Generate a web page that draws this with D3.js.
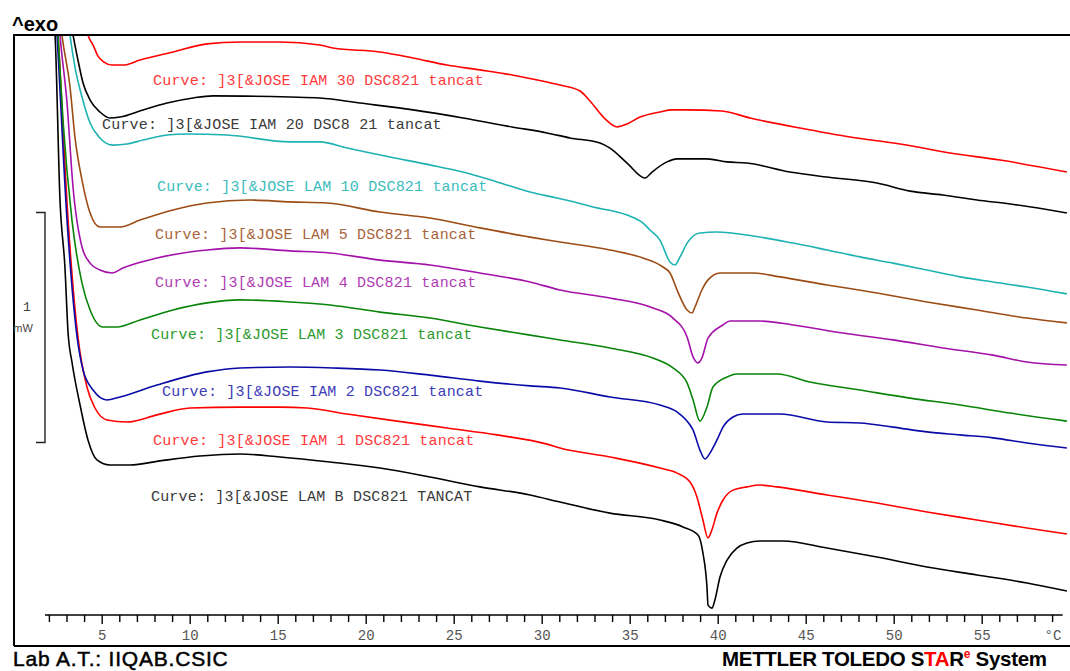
<!DOCTYPE html>
<html>
<head>
<meta charset="utf-8">
<script src="https://cdn.jsdelivr.net/npm/d3@7"></script>
<style>
  html, body { margin: 0; padding: 0; background: #fff; }
  svg { display: block; }
</style>
</head>
<body>
<svg id="chart" width="1070" height="671"></svg>
<script>
// DSC heating scans: [temperature °C, heat flow mW] (curves offset for display)
const lam30 = [[4.10,2.56],[4.22,2.522],[4.51,2.478],[4.79,2.430],[5.13,2.404],[5.59,2.391],[6.21,2.391],[7.18,2.413],[9.05,2.448],[10.98,2.483],[12.86,2.491],[15.13,2.491],[17.40,2.478],[18.14,2.465],[20.81,2.448],[22.69,2.422],[24.62,2.391],[26.49,2.370],[28.31,2.348],[30.30,2.317],[31.04,2.304],[32.18,2.278],[32.74,2.235],[33.60,2.157],[34.28,2.122],[34.85,2.135],[35.59,2.165],[36.72,2.187],[37.40,2.196],[38.26,2.196],[40.24,2.191],[41.84,2.161],[44.68,2.117],[47.52,2.078],[50.36,2.048],[53.20,2.009],[56.04,1.978],[59.84,1.926]];
const lam20 = [[3.28,2.56],[3.37,2.522],[3.65,2.413],[3.94,2.313],[4.34,2.239],[4.90,2.187],[5.47,2.161],[6.04,2.165],[7.35,2.196],[8.71,2.226],[10.19,2.248],[11.32,2.257],[15.70,2.252],[17.40,2.248],[19.68,2.226],[22.69,2.196],[25.53,2.161],[28.31,2.122],[30.30,2.096],[31.61,2.074],[33.31,2.052],[33.88,2.030],[34.85,1.965],[35.87,1.900],[36.27,1.926],[37.12,1.970],[37.69,1.983],[39.39,1.983],[40.53,1.970],[41.66,1.965],[44.11,1.926],[46.21,1.904],[49.05,1.878],[50.93,1.843],[52.80,1.826],[54.73,1.804],[56.61,1.787],[59.84,1.748]];
const lam10 = [[3.14,2.56],[3.20,2.522],[3.48,2.383],[3.88,2.252],[4.34,2.139],[4.90,2.074],[5.64,2.043],[6.44,2.048],[7.35,2.065],[8.71,2.087],[9.84,2.091],[12.12,2.087],[15.70,2.057],[17.40,2.057],[18.94,2.030],[21.38,1.991],[23.65,1.957],[25.53,1.926],[27.46,1.883],[29.34,1.839],[30.87,1.813],[31.61,1.800],[32.91,1.774],[34.85,1.739],[35.76,1.704],[36.15,1.674],[36.72,1.630],[37.29,1.535],[37.57,1.522],[37.86,1.557],[38.26,1.617],[38.99,1.661],[39.96,1.665],[42.01,1.648],[44.28,1.617],[46.21,1.587],[48.09,1.557],[49.96,1.530],[51.89,1.500],[53.77,1.470],[55.64,1.448],[57.57,1.426],[59.84,1.396]];
const lam5 = [[2.68,2.56],[2.74,2.522],[3.20,2.296],[3.48,2.078],[3.88,1.891],[4.34,1.748],[4.90,1.687],[6.04,1.687],[7.18,1.717],[9.05,1.761],[10.98,1.791],[13.43,1.804],[15.70,1.796],[17.80,1.791],[20.81,1.752],[23.65,1.726],[26.49,1.683],[29.34,1.643],[31.04,1.622],[33.88,1.587],[35.76,1.552],[36.89,1.513],[37.29,1.487],[37.74,1.404],[38.26,1.326],[38.54,1.313],[38.71,1.339],[39.10,1.413],[39.45,1.457],[40.13,1.487],[42.01,1.487],[43.54,1.470],[46.21,1.435],[49.05,1.400],[51.89,1.361],[54.73,1.326],[57.57,1.291],[59.84,1.270]];
const lam4 = [[2.59,2.56],[2.63,2.522],[3.03,2.226],[3.37,1.861],[3.88,1.600],[4.34,1.530],[4.90,1.500],[5.59,1.487],[6.21,1.509],[8.14,1.552],[10.98,1.587],[12.86,1.596],[15.70,1.583],[17.97,1.574],[20.81,1.543],[23.65,1.522],[26.49,1.487],[29.34,1.448],[31.04,1.413],[33.88,1.378],[36.32,1.335],[37.46,1.291],[38.26,1.209],[38.60,1.122],[38.88,1.096],[39.10,1.117],[39.45,1.204],[40.30,1.261],[40.70,1.278],[42.40,1.278],[44.28,1.261],[47.12,1.226],[49.96,1.196],[52.80,1.161],[55.64,1.130],[57.57,1.100],[59.84,1.087]];
const lam3 = [[2.49,2.56],[2.52,2.522],[2.80,2.152],[3.31,1.717],[3.88,1.443],[4.34,1.326],[5.07,1.252],[5.87,1.252],[7.18,1.283],[9.05,1.326],[10.98,1.357],[12.86,1.370],[15.70,1.361],[17.97,1.348],[20.81,1.317],[23.65,1.291],[26.49,1.252],[29.34,1.217],[31.04,1.196],[33.88,1.161],[36.32,1.117],[37.46,1.074],[38.26,1.009],[38.60,0.935],[38.99,0.843],[39.39,0.904],[39.73,0.991],[40.53,1.035],[41.09,1.048],[43.37,1.048],[45.24,1.013],[48.09,0.978],[50.93,0.943],[53.77,0.913],[56.61,0.878],[59.84,0.843]];
const lam2 = [[2.43,2.56],[2.46,2.522],[3.03,1.717],[3.60,1.209],[3.94,1.065],[4.51,0.978],[5.30,0.935],[6.04,0.948],[8.14,1.000],[10.98,1.057],[12.86,1.074],[15.70,1.078],[18.14,1.074],[20.81,1.065],[23.65,1.043],[26.49,1.017],[29.34,0.996],[31.04,0.987],[33.88,0.948],[36.72,0.913],[37.69,0.883],[38.43,0.826],[38.60,0.804],[38.99,0.717],[39.28,0.678],[39.56,0.704],[39.96,0.761],[40.30,0.817],[40.87,0.861],[41.43,0.874],[43.54,0.874],[46.21,0.839],[48.09,0.835],[49.96,0.817],[51.89,0.796],[53.77,0.783],[55.64,0.770],[57.57,0.748],[59.84,0.726]];
const lam1 = [[2.49,2.56],[2.52,2.522],[3.09,1.717],[3.65,1.209],[4.16,0.991],[4.62,0.900],[5.30,0.848],[6.44,0.839],[8.14,0.870],[10.02,0.900],[12.86,0.904],[15.13,0.904],[16.68,0.900],[18.94,0.874],[21.78,0.843],[24.62,0.813],[27.46,0.783],[30.30,0.743],[31.04,0.726],[33.88,0.687],[36.72,0.639],[37.69,0.617],[38.43,0.578],[38.82,0.513],[39.16,0.413],[39.45,0.335],[39.67,0.370],[39.96,0.443],[40.30,0.500],[40.87,0.543],[41.66,0.557],[42.40,0.565],[43.37,0.557],[46.21,0.522],[49.05,0.487],[51.89,0.448],[54.73,0.413],[57.57,0.378],[59.84,0.352]];
const lamB = [[2.32,2.56],[2.35,2.522],[2.63,1.804],[2.91,1.513],[3.09,1.226],[3.31,1.100],[3.77,0.913],[4.22,0.761],[4.73,0.674],[5.47,0.652],[6.61,0.652],[8.31,0.670],[10.58,0.691],[12.86,0.700],[15.13,0.687],[17.97,0.665],[20.81,0.639],[23.65,0.600],[26.49,0.557],[29.34,0.522],[31.04,0.491],[33.88,0.443],[36.72,0.413],[38.03,0.383],[38.88,0.348],[39.16,0.270],[39.39,0.122],[39.45,0.043],[39.67,0.030],[39.84,0.065],[40.13,0.165],[40.53,0.239],[41.09,0.291],[41.66,0.313],[42.40,0.322],[43.71,0.322],[46.21,0.291],[49.05,0.252],[51.89,0.209],[54.73,0.174],[57.57,0.139],[59.84,0.104]];

const curveNames = [
  "Curve: ]3[&JOSE IAM 30 DSC821 tancat",
  "Curve: ]3[&JOSE IAM 20 DSC8 21 tancat",
  "Curve: ]3[&JOSE LAM 10 DSC821 tancat",
  "Curve: ]3[&JOSE LAM 5 DSC821 tancat",
  "Curve: ]3[&JOSE LAM 4 DSC821 tancat",
  "Curve: ]3[&JOSE LAM 3 DSC821 tancat",
  "Curve: ]3[&JOSE IAM 2 DSC821 tancat",
  "Curve: ]3[&JOSE IAM 1 DSC821 tancat",
  "Curve: ]3[&JOSE LAM B DSC821 TANCAT"
];
const curveSeries = [lam30, lam20, lam10, lam5, lam4, lam3, lam2, lam1, lamB];

// Temperature axis: minor tick every degree, labels every 5 °C
const temperatureTicks = d3.range(2, 60);
const labelledTicks = [5, 10, 15, 20, 25, 30, 35, 40, 45, 50, 55];
const scaleBarValue = 1; // mW

// ---- styling / layout ----
const lineColors  = ["#ff0000", "#000000", "#1fb2b2", "#9c4c14", "#a410aa", "#088408", "#0a0aa6", "#ff0000", "#000000"];
const labelColors = ["#ff3a3a", "#3a3a3a", "#3cbcbc", "#a8643a", "#b03cb4", "#2e9a2e", "#3c3cb8", "#ff3a3a", "#3a3a3a"];
const labelAnchors = [[7.92,2.304],[5.02,2.113],[8.14,1.843],[8.03,1.635],[8.03,1.426],[7.80,1.200],[8.43,0.952],[7.92,0.739],[7.80,0.496]];
const scaleBarBase = 0.75;

const svg = d3.select("#chart");
const x = d3.scaleLinear().domain([0, 60]).range([13.7, 1069.7]);
const y = d3.scaleLinear().domain([0, 2.5217]).range([615, 35]);

// plotting frame (open on the right)
svg.append("path")
  .attr("d", "M14,646 V35 H1070 M14,646 H1070")
  .attr("fill", "none").attr("stroke", "#000").attr("stroke-width", 2);

svg.append("defs").append("clipPath").attr("id", "plotClip")
  .append("rect").attr("x", 15).attr("y", 36).attr("width", 1055).attr("height", 609);

// curves
const line = d3.line().x(d => x(d[0])).y(d => y(d[1])).curve(d3.curveMonotoneX);
const gCurves = svg.append("g").attr("clip-path", "url(#plotClip)");
curveSeries.slice().reverse().forEach((s, i) => {
  const k = curveSeries.length - 1 - i;
  gCurves.append("path")
    .datum(s)
    .attr("d", line)
    .attr("fill", "none")
    .attr("stroke", lineColors[k])
    .attr("stroke-width", 1.6)
    .attr("stroke-linejoin", "round");
});

// curve captions
svg.append("g").selectAll("text")
  .data(curveNames)
  .join("text")
  .attr("x", (d, i) => x(labelAnchors[i][0]))
  .attr("y", (d, i) => y(labelAnchors[i][1]))
  .attr("fill", (d, i) => labelColors[i])
  .attr("font-family", "'Liberation Mono', 'DejaVu Sans Mono', monospace")
  .attr("font-size", 15)
  .attr("letter-spacing", 0.18)
  .attr("xml:space", "preserve")
  .style("white-space", "pre")
  .text(d => d);

// temperature axis
const axis = d3.axisBottom(x)
  .tickValues(temperatureTicks)
  .tickSize(7)
  .tickFormat(d => labelledTicks.includes(d) ? d : "");
const gAxis = svg.append("g").attr("transform", "translate(0,615)").call(axis);
gAxis.select(".domain").remove();
gAxis.selectAll(".tick line")
  .attr("y2", d => labelledTicks.includes(d) ? 9 : 7)
  .attr("stroke", "#000").attr("stroke-width", 1.4);
gAxis.selectAll(".tick text")
  .attr("y", 25).attr("dy", 0)
  .attr("fill", "#555")
  .attr("font-family", "'Liberation Mono', 'DejaVu Sans Mono', monospace")
  .attr("font-size", 14);
gAxis.append("line")
  .attr("x1", x(1.78)).attr("x2", x(59.6))
  .attr("stroke", "#000").attr("stroke-width", 1.6);
gAxis.append("text")
  .attr("x", 1053).attr("y", 25)
  .attr("text-anchor", "middle")
  .attr("fill", "#555")
  .attr("font-family", "'Liberation Mono', 'DejaVu Sans Mono', monospace")
  .attr("font-size", 14)
  .text("°C");

// 1 mW scale bar
const yb0 = y(scaleBarBase), yb1 = y(scaleBarBase + scaleBarValue);
svg.append("path")
  .attr("d", `M36,${yb1} H45 V${yb0} H36`)
  .attr("fill", "none").attr("stroke", "#222").attr("stroke-width", 1.4);
svg.append("text")
  .attr("x", 27).attr("y", 311).attr("text-anchor", "middle")
  .attr("fill", "#444").attr("font-family", "'Liberation Mono', monospace").attr("font-size", 13)
  .text(scaleBarValue);
svg.append("text")
  .attr("x", 23).attr("y", 332).attr("text-anchor", "middle")
  .attr("fill", "#444").attr("font-family", "'Liberation Sans', Arial, sans-serif").attr("font-size", 11)
  .text("mW");

// header / footer
svg.append("text")
  .attr("x", 12).attr("y", 31)
  .attr("font-family", "'Liberation Sans', Arial, sans-serif")
  .attr("font-weight", "bold").attr("font-size", 20)
  .text("^exo");

svg.append("text")
  .attr("x", 13).attr("y", 666)
  .attr("font-family", "'Liberation Sans', Arial, sans-serif")
  .attr("font-size", 21)
  .attr("letter-spacing", 0.8)
  .attr("stroke", "#000").attr("stroke-width", 0.5)
  .text("Lab A.T.: IIQAB.CSIC");

const brand = svg.append("text")
  .attr("x", 722).attr("y", 666)
  .attr("font-family", "'Liberation Sans', Arial, sans-serif")
  .attr("font-weight", "bold").attr("font-size", 20.5)
  .attr("letter-spacing", -0.3);
brand.append("tspan").text("METTLER TOLEDO S");
brand.append("tspan").attr("fill", "#ff0000").text("TA");
brand.append("tspan").text("R");
brand.append("tspan").attr("fill", "#ff0000").attr("font-size", 12).attr("dy", -8).text("e");
brand.append("tspan").attr("dy", 8).text(" System");
</script>
</body>
</html>
